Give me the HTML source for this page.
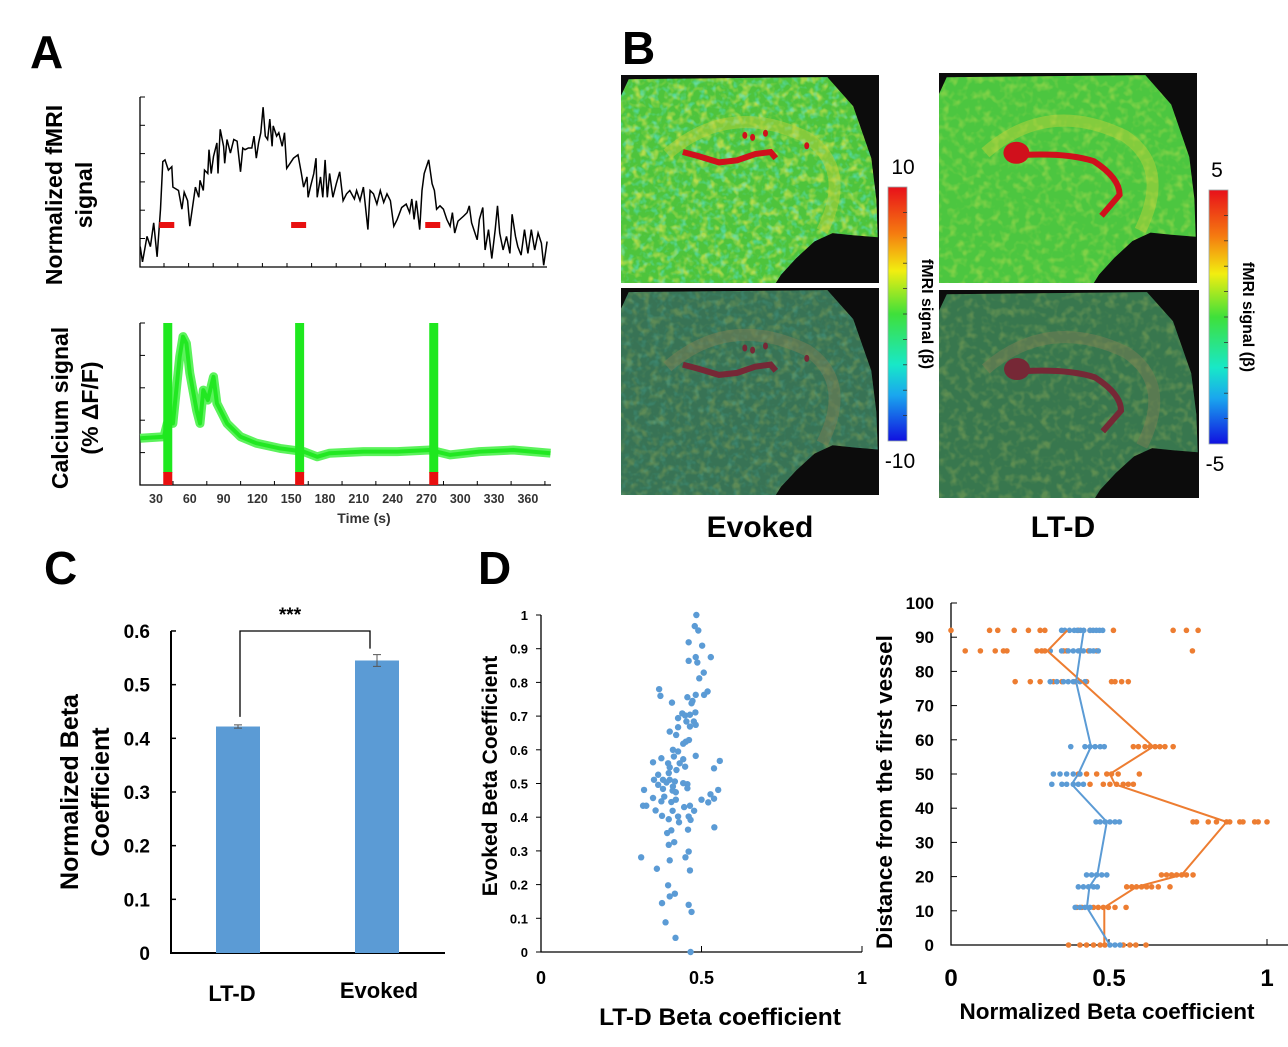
<!DOCTYPE html>
<html><head><meta charset="utf-8"><style>
html,body{margin:0;padding:0;background:#fff}
svg{display:block;font-family:"Liberation Sans",Arial,sans-serif}
.b{font-weight:bold}
</style></head><body>
<svg id="fig" width="1288" height="1047" viewBox="0 0 1288 1047" xmlns="http://www.w3.org/2000/svg">
<defs>
<linearGradient id="cbar" x1="0" y1="0" x2="0" y2="1">
<stop offset="0" stop-color="#e8101a"/><stop offset="0.18" stop-color="#f57a10"/><stop offset="0.33" stop-color="#f2ee10"/><stop offset="0.5" stop-color="#3fe03a"/><stop offset="0.7" stop-color="#18e8c8"/><stop offset="0.82" stop-color="#1aa6ee"/><stop offset="1" stop-color="#1010e0"/>
</linearGradient>
<filter id="noise" x="0" y="0" width="100%" height="100%">
<feTurbulence type="fractalNoise" baseFrequency="0.12" numOctaves="2" seed="3"/>
<feColorMatrix type="matrix" values="0 0 0 0 0.95  0 0 0 0 0.85  0 0 0 0 0.1  0 0 0 3 -1.4"/>
<feComposite in2="SourceGraphic" operator="in"/>
</filter>
<filter id="noise2" x="0" y="0" width="100%" height="100%">
<feTurbulence type="fractalNoise" baseFrequency="0.15" numOctaves="2" seed="9"/>
<feColorMatrix type="matrix" values="0 0 0 0 0.1  0 0 0 0 0.8  0 0 0 0 0.8  0 0 0 3 -1.5"/>
<feComposite in2="SourceGraphic" operator="in"/>
</filter>
</defs>

<text x="30" y="68" font-size="46" class="b">A</text>
<text x="622" y="64" font-size="46" class="b">B</text>
<text x="44" y="584" font-size="46" class="b">C</text>
<text x="478" y="584" font-size="46" class="b">D</text>

<g id="panelA">
<text transform="translate(62,195) rotate(-90)" text-anchor="middle" font-size="23" class="b"><tspan x="0" dy="0">Normalized fMRI</tspan><tspan x="0" dy="30">signal</tspan></text>
<text transform="translate(68,408) rotate(-90)" text-anchor="middle" font-size="23" class="b"><tspan x="0" dy="0">Calcium signal</tspan><tspan x="0" dy="30">(% ΔF/F)</tspan></text>
<g id="aTop"></g>
<g id="aBot"></g>
<text x="364" y="523" text-anchor="middle" font-size="14" class="b" fill="#333">Time (s)</text>
</g>

<g id="panelB"></g>
<text x="760" y="537" text-anchor="middle" font-size="30" class="b">Evoked</text>
<text x="1063" y="537" text-anchor="middle" font-size="30" class="b">LT-D</text>

<g id="panelC">
<text transform="translate(78,792) rotate(-90)" text-anchor="middle" font-size="25" class="b"><tspan x="0" dy="0">Normalized Beta</tspan><tspan x="0" dy="31">Coefficient</tspan></text>
</g>

<g id="panelD1">
<text transform="translate(497,776) rotate(-90)" text-anchor="middle" font-size="21" class="b">Evoked Beta Coefficient</text>
<text x="720" y="1025" text-anchor="middle" font-size="24.5" class="b">LT-D Beta coefficient</text>
</g>
<g id="panelD2">
<text transform="translate(892,792) rotate(-90)" text-anchor="middle" font-size="22.5" class="b">Distance from the first vessel</text>
<text x="1107" y="1019" text-anchor="middle" font-size="22.5" class="b">Normalized Beta coefficient</text>
</g>
</svg>
<script>
const NS='http://www.w3.org/2000/svg';
function mk(parent,tag,attrs){const e=document.createElementNS(NS,tag);for(const k in attrs)e.setAttribute(k,attrs[k]);parent.appendChild(e);return e;}

const fmriT=[16,18,22,25,28,31,34,36,38,41,44,45,50,53,55,58,60,65,68,69,72,73,76,77,79,81,84,85,87,90,91,93,96,99,102,105,107,109,112,115,117,119,121,123,125,127,129,131,133,134,137,139,142,144,146,149,152,156,159,161,164,165,167,170,172,173,176,178,180,182,184,187,190,193,196,199,202,206,208,211,214,218,220,223,226,229,232,235,238,241,244,248,252,255,257,259,261,264,266,268,272,275,277,279,282,285,288,291,293,295,298,303,306,308,310,315,317,320,322,325,328,331,333,335,338,341,344,346,349,351,354,357,360,363,366,369,372,374,377];
const fmriV=[12,3,18,12,26,6,34,62,63,57,59,47,45,34,44,39,24,47,41,51,45,57,55,69,55,65,73,55,81,71,61,75,67,75,74,56,70,69,70,70,77,64,73,79,94,77,75,87,71,83,77,79,71,79,58,61,64,66,55,47,53,41,47,55,64,41,53,41,63,41,55,41,49,56,39,43,45,40,45,39,47,22,45,43,37,45,38,43,39,24,28,35,37,32,40,28,39,22,45,55,63,49,45,34,36,34,28,24,32,20,27,30,32,36,26,16,28,35,10,22,5,22,36,20,10,18,8,31,18,12,7,22,8,22,10,20,14,1,15];
const caT=[16,37,40,45,51,54,57,60,66,69,72,76,81,84,93,105,119,140,161,173,184,214,244,273,291,317,347,380];
const caV=[1.44,1.49,1.9,1.9,3.96,4.58,4.37,3.45,2.31,1.9,2.93,2.62,3.34,2.52,1.9,1.49,1.29,1.13,1.03,0.87,0.98,1.03,1.03,1.08,0.93,1.03,1.08,0.98];
const stimT=[40,157,276];
const timeTicks=[30,60,90,120,150,180,210,240,270,300,330,360];
const ax=t=>156+(t-30)*1.127;
const fy=v=>267-v*1.7;
const cy=v=>485-v*32.4;
(function(){
 const g=document.getElementById('aTop');
 let l=mk(g,'path',{d:'M140 97V267H547',stroke:'#000','stroke-width':1.3,fill:'none'});
 
 
 for(let i=0;i<6;i++){mk(g,'line',{x1:140,x2:145,y1:97+i*28.3,y2:97+i*28.3,stroke:'#000'});}
 for(let i=0;i<16;i++){const x=164+i*24.6;mk(g,'line',{x1:x,x2:x,y1:267,y2:263,stroke:'#000'});}
 const pts=fmriT.map((t,i)=>ax(t).toFixed(1)+','+fy(fmriV[i]).toFixed(1)).join(' ');
 l=mk(g,'polyline',{points:pts,fill:'none',stroke:'#000','stroke-width':1.5});
 
 
 stimT.forEach(t=>{const r=mk(g,'rect',{x:ax(t)-8,y:222,width:15,height:6,fill:'#e81010'});
  
  });
 const b=document.getElementById('aBot');
 l=mk(b,'path',{d:'M140 323V485H551',stroke:'#000','stroke-width':1.3,fill:'none'});
 
 
 for(let v=1;v<=5;v++){mk(b,'line',{x1:140,x2:145,y1:cy(v),y2:cy(v),stroke:'#000'});}
 const cp=caT.map((t,i)=>ax(t).toFixed(1)+','+cy(caV[i]).toFixed(1)).join(' ');
 l=mk(b,'polyline',{points:cp,fill:'none',stroke:'#5cf25c','stroke-width':9,'stroke-linejoin':'round'});
 
 
 mk(b,'polyline',{points:cp,fill:'none',stroke:'#22e822','stroke-width':4,'stroke-linejoin':'round'});
 stimT.forEach(t=>{const x=ax(t);
  const r=mk(b,'rect',{x:x-4,y:323,width:9,height:150,fill:'#1ee81e'});
  
  
  mk(b,'rect',{x:x-4,y:472,width:9,height:13,fill:'#e81010'});});
 timeTicks.forEach((t,i)=>{const x=ax(t);
  mk(b,'line',{x1:x+17,x2:x+17,y1:485,y2:481,stroke:'#000'});
  const tx=mk(b,'text',{x:x,y:503,'text-anchor':'middle','font-size':12.5,'font-weight':'bold',fill:'#333'});tx.textContent=t;
  
  });
})();

(function(){
 const g=document.getElementById('panelB');
 const imgs=[
  {x:621,y:75,w:258,h:208,fill:'#4ec43c',dark:false,ltd:false,name:'evoked-fmri-map'},
  {x:621,y:288,w:258,h:207,fill:'#3c7a50',dark:true,ltd:false,name:'evoked-overlay-map'},
  {x:939,y:73,w:258,h:210,fill:'#4cc640',dark:false,ltd:true,name:'ltd-fmri-map'},
  {x:939,y:290,w:260,h:208,fill:'#3c7f48',dark:true,ltd:true,name:'ltd-overlay-map'}];
 const shape=[[0.03,0.02],[0.8,0.01],[0.9,0.15],[0.97,0.4],[0.99,0.6],[0.995,0.78],[0.9,0.77],[0.82,0.76],[0.75,0.8],[0.68,0.88],[0.62,0.96],[0.6,1],[0,1],[0,0.1]];
 imgs.forEach(im=>{
  const gg=mk(g,'g',{});
  
  
  mk(gg,'rect',{x:im.x,y:im.y,width:im.w,height:im.h,fill:'#0c0c0c'});
  const pts=shape.map(p=>(im.x+p[0]*im.w).toFixed(1)+','+(im.y+p[1]*im.h).toFixed(1)).join(' ');
  mk(gg,'polygon',{points:pts,fill:im.fill});
  mk(gg,'polygon',{points:pts,fill:'#fff',filter:'url(#noise)',opacity:im.dark?0.25:(im.ltd?0.3:0.6)});
  if(!im.ltd) mk(gg,'polygon',{points:pts,fill:'#fff',filter:'url(#noise2)',opacity:im.dark?0.2:0.55});
  const P=(fx,fy)=>(im.x+fx*im.w).toFixed(1)+' '+(im.y+fy*im.h).toFixed(1);
  mk(gg,'path',{d:`M${P(0.18,0.38)} Q${P(0.42,0.12)} ${P(0.72,0.3)} Q${P(0.9,0.45)} ${P(0.78,0.75)}`,fill:'none',stroke:im.dark?'#9a8a50':'#c8d23a','stroke-width':12,opacity:0.45});
  const red=im.dark?'#8a1c2a':'#d0101c';
  if(!im.ltd){
   mk(gg,'path',{d:`M${P(0.24,0.37)} L${P(0.3,0.39)} L${P(0.38,0.42)} L${P(0.45,0.41)} L${P(0.52,0.38)} L${P(0.58,0.37)} L${P(0.6,0.4)}`,fill:'none',stroke:red,'stroke-width':6});
   [[0.48,0.29],[0.51,0.3],[0.56,0.28],[0.72,0.34]].forEach(p=>mk(gg,'ellipse',{cx:im.x+p[0]*im.w,cy:im.y+p[1]*im.h,rx:2.5,ry:3.5,fill:red}));
  } else {
   mk(gg,'ellipse',{cx:im.x+0.3*im.w,cy:im.y+0.38*im.h,rx:13,ry:11,fill:red});
   mk(gg,'path',{d:`M${P(0.33,0.39)} Q${P(0.5,0.38)} ${P(0.6,0.42)} Q${P(0.7,0.5)} ${P(0.7,0.58)} L${P(0.63,0.68)}`,fill:'none',stroke:red,'stroke-width':6});
  }
  if(im.dark) mk(gg,'polygon',{points:pts,fill:'#2a5a6a',opacity:0.2});
 });
 const bars=[{x:888,y:187,h:254,top:'10',bot:'-10',tx:903,bx:900,lx:922,name:'evoked-colorbar'},{x:1209,y:190,h:254,top:'5',bot:'-5',tx:1217,bx:1215,lx:1243,name:'ltd-colorbar'}];
 bars.forEach(c=>{
  const r=mk(g,'rect',{x:c.x,y:c.y,width:19,height:c.h,fill:'url(#cbar)',stroke:'#9aa','stroke-width':0.8});
  
  
  for(let i=1;i<10;i++){mk(g,'line',{x1:c.x+15,x2:c.x+19,y1:c.y+i*c.h/10,y2:c.y+i*c.h/10,stroke:'#333','stroke-width':0.8});}
  let t=mk(g,'text',{x:c.tx,y:c.y-13,'text-anchor':'middle','font-size':21});t.textContent=c.top;
  
  
  t=mk(g,'text',{x:c.bx,y:c.y+c.h+27,'text-anchor':'middle','font-size':21});t.textContent=c.bot;
  
  
  t=mk(g,'text',{transform:`translate(${c.lx},${c.y+c.h/2}) rotate(90)`,'text-anchor':'middle','font-size':16,'font-weight':'bold'});t.textContent='fMRI signal (β)';
  
  
 });
})();

const barCats=['LT-D','Evoked'];
const barVals=[0.422,0.545];
const barErr=[0.003,0.011];
const cTicks=['0','0.1','0.2','0.3','0.4','0.5','0.6'];
(function(){
 const g=document.getElementById('panelC');
 const yC=v=>953-v*536.7;
 mk(g,'path',{d:'M171 631V953H445',stroke:'#000','stroke-width':2,fill:'none'});
 cTicks.forEach((s,i)=>{const v=i*0.1;mk(g,'line',{x1:171,x2:176,y1:yC(v),y2:yC(v),stroke:'#000','stroke-width':1.5});
  const t=mk(g,'text',{x:150,y:yC(v)+7,'text-anchor':'end','font-size':19,'font-weight':'bold'});t.textContent=s;
  
  });
 const cx=[238,377];
 barCats.forEach((c,i)=>{
  const r=mk(g,'rect',{x:cx[i]-22,y:yC(barVals[i]),width:44,height:953-yC(barVals[i]),fill:'#5b9bd5'});
  
  
  const e1=yC(barVals[i]+barErr[i]),e2=yC(barVals[i]-barErr[i]);
  mk(g,'path',{d:`M${cx[i]} ${e1}V${e2}M${cx[i]-4} ${e1}H${cx[i]+4}M${cx[i]-4} ${e2}H${cx[i]+4}`,stroke:'#555','stroke-width':1});
  const t=mk(g,'text',{x:cx[i]-6+(i?8:0),y:i?998:1001,'text-anchor':'middle','font-size':22,'font-weight':'bold'});t.textContent=c;
  
  
 });
 const top=631;
 const br=mk(g,'path',{d:`M${cx[0]+2} ${yC(barVals[0]+barErr[0])-8}V${top}H${cx[1]-7}V${yC(barVals[1]+barErr[1])-6}`,fill:'none',stroke:'#000','stroke-width':1.3});
 
 
 const st=mk(g,'text',{x:290,y:621,'text-anchor':'middle','font-size':19,'font-weight':'bold'});st.textContent='***';
 
 
})();

const scatX=[0.484,0.479,0.49,0.46,0.502,0.482,0.529,0.46,0.487,0.507,0.493,0.368,0.372,0.519,0.508,0.482,0.408,0.456,0.469,0.472,0.481,0.44,0.427,0.449,0.464,0.453,0.476,0.482,0.464,0.427,0.401,0.421,0.461,0.451,0.443,0.411,0.427,0.482,0.414,0.443,0.375,0.349,0.396,0.432,0.449,0.401,0.422,0.557,0.539,0.365,0.398,0.352,0.38,0.401,0.391,0.417,0.365,0.411,0.456,0.443,0.456,0.38,0.41,0.42,0.321,0.552,0.528,0.5,0.539,0.521,0.349,0.384,0.375,0.42,0.406,0.318,0.328,0.446,0.464,0.357,0.41,0.477,0.377,0.427,0.46,0.398,0.466,0.43,0.54,0.458,0.406,0.393,0.415,0.398,0.312,0.401,0.46,0.45,0.361,0.464,0.396,0.401,0.417,0.377,0.46,0.469,0.388,0.419,0.466];
const scatY=[1.0,0.967,0.954,0.919,0.909,0.875,0.875,0.864,0.859,0.829,0.812,0.78,0.76,0.773,0.763,0.763,0.74,0.756,0.738,0.745,0.711,0.708,0.694,0.702,0.704,0.684,0.684,0.674,0.669,0.667,0.654,0.644,0.629,0.624,0.618,0.6,0.595,0.582,0.58,0.572,0.575,0.563,0.56,0.56,0.55,0.548,0.54,0.567,0.545,0.526,0.531,0.511,0.511,0.511,0.503,0.506,0.496,0.491,0.498,0.501,0.486,0.484,0.479,0.474,0.481,0.481,0.468,0.452,0.455,0.444,0.457,0.461,0.447,0.452,0.445,0.434,0.434,0.43,0.434,0.42,0.419,0.419,0.404,0.402,0.402,0.394,0.392,0.385,0.37,0.363,0.361,0.353,0.326,0.318,0.281,0.272,0.298,0.281,0.247,0.242,0.198,0.165,0.173,0.145,0.14,0.119,0.088,0.042,0];
const d1YTicks=['0','0.1','0.2','0.3','0.4','0.5','0.6','0.7','0.8','0.9','1'];
const d1XTicks=['0','0.5','1'];
(function(){
 const g=document.getElementById('panelD1');
 const X=v=>541+v*321,Y=v=>952-v*337;
 mk(g,'path',{d:'M541 615V952H862',stroke:'#000','stroke-width':1.3,fill:'none'});
 d1YTicks.forEach((s,i)=>{const v=i/10;mk(g,'line',{x1:536,x2:541,y1:Y(v),y2:Y(v),stroke:'#000'});
  const t=mk(g,'text',{x:528,y:Y(v)+5,'text-anchor':'end','font-size':13,'font-weight':'bold'});t.textContent=s;
  
  });
 d1XTicks.forEach((s,i)=>{const v=i/2;mk(g,'line',{x1:X(v),x2:X(v),y1:952,y2:946,stroke:'#000'});
  const t=mk(g,'text',{x:X(v),y:984,'text-anchor':'middle','font-size':18,'font-weight':'bold'});t.textContent=s;
  
  });
 scatX.forEach((x,i)=>{const c=mk(g,'circle',{cx:X(x),cy:Y(scatY[i]),r:3.2,fill:'#5b9bd5'});
  
  });
})();

const distLevels=[92,86,77,58,50,47,36,20.5,17,11,0];
const blueMean=[0.42,0.41,0.396,0.443,0.403,0.382,0.493,0.463,0.438,0.43,0.503];
const orangeMean=[0.368,0.305,0.414,0.64,0.503,0.519,0.872,0.73,0.587,0.485,0.485];
const blueDots=[
 [0.35,0.36,0.375,0.39,0.4,0.41,0.42,0.44,0.45,0.46,0.47,0.48],
 [0.314,0.35,0.371,0.387,0.403,0.419,0.44,0.451,0.466],
 [0.314,0.335,0.356,0.371,0.387,0.408,0.424],
 [0.379,0.424,0.44,0.456,0.472,0.485],
 [0.324,0.345,0.366,0.387,0.408],
 [0.319,0.351,0.366,0.387,0.403,0.419],
 [0.459,0.472,0.488,0.503,0.519,0.533],
 [0.429,0.445,0.461,0.477,0.493],
 [0.403,0.419,0.435,0.451,0.463],
 [0.393,0.408,0.424,0.44],
 [0.503,0.519,0.535]];
const orangeDots=[
 [0,0.122,0.148,0.2,0.245,0.282,0.297,0.403,0.44,0.514,0.703,0.745,0.782],
 [0.045,0.093,0.14,0.166,0.177,0.272,0.287,0.297,0.356,0.366,0.408,0.435,0.461,0.764],
 [0.203,0.251,0.282,0.324,0.351,0.393,0.429,0.508,0.519,0.54,0.561],
 [0.577,0.593,0.614,0.63,0.646,0.661,0.677,0.703],
 [0.403,0.429,0.461,0.493,0.508,0.529,0.596],
 [0.44,0.482,0.503,0.524,0.545,0.561,0.577],
 [0.766,0.777,0.814,0.84,0.872,0.882,0.914,0.924,0.961,0.972,1.0],
 [0.666,0.682,0.698,0.714,0.73,0.745,0.766],
 [0.556,0.572,0.587,0.603,0.619,0.635,0.656,0.693],
 [0.398,0.414,0.451,0.466,0.482,0.498,0.519,0.554],
 [0.372,0.408,0.429,0.451,0.472,0.487,0.545,0.566,0.585,0.617]];
const d2YTicks=['0','10','20','30','40','50','60','70','80','90','100'];
const d2XTicks=['0','0.5','1'];
(function(){
 const g=document.getElementById('panelD2');
 const X=v=>951+v*316,Y=v=>945-v*3.42;
 mk(g,'path',{d:'M951 603V945H1288',stroke:'#000','stroke-width':1.3,fill:'none'});
 d2YTicks.forEach((s,i)=>{const v=i*10;mk(g,'line',{x1:951,x2:957,y1:Y(v),y2:Y(v),stroke:'#000'});
  const t=mk(g,'text',{x:934,y:Y(v)+6,'text-anchor':'end','font-size':17,'font-weight':'bold'});t.textContent=s;
  
  });
 d2XTicks.forEach((s,i)=>{const v=i/2;mk(g,'line',{x1:X(v),x2:X(v),y1:945,y2:939,stroke:'#000'});
  const t=mk(g,'text',{x:X(v),y:986,'text-anchor':'middle','font-size':24,'font-weight':'bold'});t.textContent=s;
  
  });
 distLevels.forEach((lv,i)=>{
  orangeDots[i].forEach(v=>{const c=mk(g,'circle',{cx:X(v),cy:Y(lv),r:2.8,fill:'#ed7d31'});
   
   });
  blueDots[i].forEach(v=>{const c=mk(g,'circle',{cx:X(v),cy:Y(lv),r:2.8,fill:'#5b9bd5'});
   
   });
 });
 let l=mk(g,'polyline',{points:distLevels.map((lv,i)=>X(orangeMean[i]).toFixed(1)+','+Y(lv).toFixed(1)).join(' '),fill:'none',stroke:'#ed7d31','stroke-width':2});
 
 
 l=mk(g,'polyline',{points:distLevels.map((lv,i)=>X(blueMean[i]).toFixed(1)+','+Y(lv).toFixed(1)).join(' '),fill:'none',stroke:'#5b9bd5','stroke-width':2});
 
 
})();
</script>
</body></html>
